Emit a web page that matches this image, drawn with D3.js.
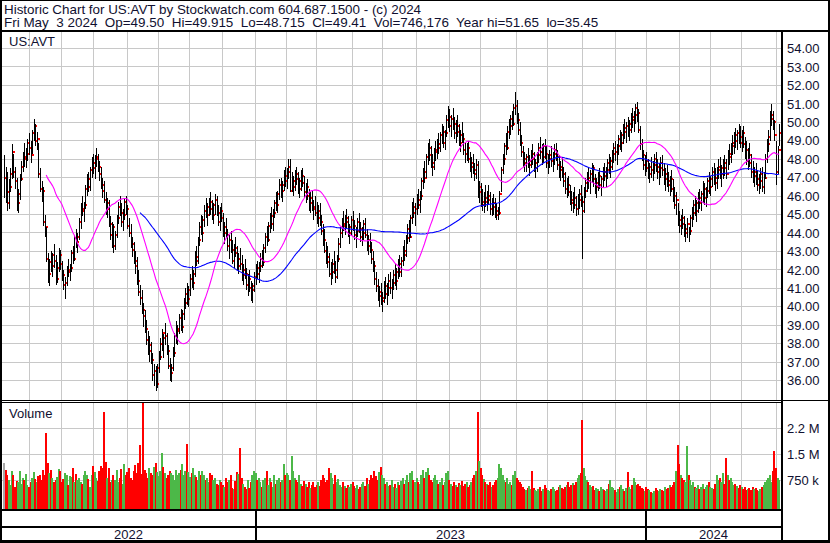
<!DOCTYPE html>
<html><head><meta charset="utf-8">
<script src="https://cdn.jsdelivr.net/npm/d3@7"></script>
<style>
html,body{margin:0;padding:0;background:#fff;}
svg{display:block;font-family:"Liberation Sans",Arial,sans-serif;}
text{white-space:pre;}
</style></head><body>
<svg id="c" width="830" height="543"></svg>
<script>
// ---- daily data (index 0 = first bar shown, last = Fri May 3 2024) ----
const high = [
48.2,47.6,47.3,46.9,47.5,48.8,48.3,47.6,47.0,46.4,
47.2,47.9,48.4,48.9,48.6,49.1,49.4,49.0,49.6,50.2,
49.9,49.5,48.9,47.5,46.8,46.5,45.0,44.3,42.9,42.6,
43.0,42.9,43.4,42.8,42.4,43.2,43.1,42.5,42.0,41.6,
42.2,42.6,42.3,43.1,43.3,43.9,44.2,44.0,44.8,45.6,
46.0,45.7,46.6,47.2,47.3,47.6,48.1,48.3,48.2,48.6,
48.3,47.9,47.6,47.0,46.8,46.2,45.9,45.8,44.9,44.6,
44.5,44.1,45.0,45.7,46.0,45.6,45.3,45.9,46.0,45.5,
44.8,44.5,43.8,43.5,43.0,42.7,42.0,41.2,40.9,40.2,
39.8,39.3,38.7,38.4,38.1,37.5,36.9,36.8,36.9,37.6,
38.3,38.8,38.5,39.1,38.6,37.9,37.2,36.9,37.8,38.6,
39.2,39.0,39.6,39.9,39.8,40.5,41.0,41.3,41.1,41.8,
42.2,42.0,43.0,43.3,43.8,44.6,45.0,44.9,45.5,45.9,
45.6,45.9,46.2,45.8,45.6,46.1,46.0,45.5,45.4,45.6,
45.1,44.6,44.8,44.2,43.9,44.1,43.6,43.4,43.8,43.3,
42.9,43.2,42.8,42.3,42.6,42.1,41.8,42.0,41.4,41.3,
41.9,42.3,42.5,42.4,42.9,43.1,43.4,44.0,44.4,44.6,
45.1,45.4,45.3,45.8,46.2,46.3,46.9,47.0,46.8,47.4,
47.6,47.5,48.0,48.0,47.3,47.1,47.4,47.6,47.3,47.0,
47.4,47.5,47.1,46.7,46.9,46.4,46.2,46.3,45.8,46.0,
45.7,45.5,45.6,45.0,44.5,44.2,43.5,43.3,42.9,42.4,
42.6,43.0,42.5,42.8,43.7,44.3,44.8,45.2,45.0,45.3,
44.9,44.5,44.9,45.2,44.7,44.3,44.8,45.1,44.6,44.3,
44.7,44.8,44.2,43.9,44.0,43.5,43.0,42.5,41.9,41.5,
41.1,41.3,40.8,41.4,41.6,41.3,41.8,41.9,41.5,42.0,
42.3,42.1,42.6,42.8,42.7,43.3,43.6,43.9,44.5,44.7,
45.0,45.7,45.9,45.6,46.1,46.4,46.3,47.0,47.5,47.9,
48.3,48.9,49.1,48.7,48.3,48.6,49.0,49.1,49.4,49.5,
49.9,49.8,49.6,50.4,50.9,50.7,50.4,50.8,50.3,50.1,
50.4,49.9,49.6,50.0,49.4,48.9,48.9,49.0,48.4,48.1,
48.3,47.8,48.0,47.9,46.8,46.7,46.4,46.2,46.6,46.3,
46.6,46.2,45.9,46.1,45.9,45.6,45.4,46.3,47.6,48.3,
48.9,49.4,49.8,50.2,50.4,50.6,51.0,51.65,51.2,50.5,
50.0,49.3,48.7,48.4,48.3,48.6,48.2,48.5,48.8,48.4,
48.0,48.4,48.9,49.2,48.8,48.9,49.1,48.7,48.3,48.5,
48.7,48.4,48.8,48.9,48.5,48.2,47.9,48.1,47.6,47.3,
47.0,47.1,46.6,46.3,46.2,46.5,46.0,46.1,46.4,46.6,
46.0,46.5,47.0,47.3,47.6,47.4,47.8,47.7,47.2,47.0,
47.3,47.5,47.1,47.6,47.8,47.6,48.0,48.3,48.1,48.5,
48.9,49.0,48.8,49.3,49.6,49.5,49.9,50.2,50.0,50.3,
50.1,50.5,50.8,50.6,51.0,51.1,50.7,49.8,49.1,48.5,
48.2,48.4,48.0,47.8,48.1,47.9,48.3,48.4,48.0,47.8,
48.1,48.2,47.8,47.5,47.7,47.3,47.1,47.4,46.9,46.5,
46.2,45.6,45.2,45.0,45.3,44.9,44.5,44.8,44.3,45.0,
45.4,45.8,46.0,45.8,46.2,46.4,46.3,46.8,46.7,46.5,
47.0,47.3,47.1,47.6,47.8,47.5,47.6,48.0,48.1,47.7,
48.0,48.2,48.0,48.5,48.8,48.9,49.3,49.5,49.7,49.6,
49.9,49.8,49.6,49.8,49.2,49.0,48.6,48.9,48.3,47.9,
47.6,47.8,47.4,47.2,47.5,47.6,47.3,48.3,49.1,49.6,
50.6,51.0,50.6,50.1,49.0,48.7,49.915];
const low = [
45.9,45.6,45.2,45.3,46.2,46.9,47.0,46.4,45.2,45.1,
45.8,46.8,47.3,47.6,47.5,47.9,48.2,47.8,48.3,49.0,
48.7,48.5,47.0,46.2,45.7,44.4,43.8,42.4,41.3,41.1,
41.9,41.6,42.1,41.2,41.3,41.9,42.0,41.4,40.9,40.4,
41.1,41.6,41.4,41.9,42.3,42.5,43.2,42.9,43.6,44.2,
44.9,44.6,45.3,46.0,46.2,46.3,47.0,47.2,46.9,47.6,
47.3,46.8,46.4,45.9,45.6,45.0,44.8,44.3,43.6,43.2,
42.9,43.1,43.7,44.5,44.9,44.3,44.1,44.7,45.0,44.2,
43.8,43.2,42.7,42.3,41.8,41.2,40.6,40.1,39.6,38.9,
38.6,37.9,37.4,37.0,36.9,36.0,35.7,35.45,35.6,36.4,
37.1,37.6,37.2,37.9,37.4,36.6,36.0,35.9,36.5,37.3,
38.0,37.9,38.5,38.7,38.6,39.3,39.9,40.1,40.0,40.6,
41.0,40.9,41.6,42.2,42.3,43.3,43.9,43.5,44.3,44.8,
44.4,44.9,45.0,44.7,44.5,45.0,44.9,44.4,44.1,44.6,
43.8,43.4,43.7,43.0,42.6,42.9,42.3,42.1,42.7,42.0,
41.8,42.0,41.4,41.2,41.5,40.9,40.6,40.8,40.3,40.2,
40.8,41.2,41.5,41.3,41.9,42.1,42.2,42.9,43.3,43.5,
44.0,44.2,44.1,44.8,45.2,45.1,45.8,45.9,45.7,46.3,
46.5,46.4,46.9,46.2,46.2,46.0,46.3,46.6,46.1,45.9,
46.3,46.5,45.9,45.6,45.8,45.2,45.1,45.2,44.7,44.9,
44.5,44.3,44.4,43.9,43.3,42.9,42.3,42.1,41.6,41.2,
41.5,41.8,41.3,41.5,42.4,43.2,43.7,44.1,43.9,44.2,
43.8,43.4,43.9,44.1,43.6,43.2,43.8,44.0,43.5,43.3,
43.6,43.7,43.0,42.8,42.9,42.3,41.9,41.2,40.8,40.3,
40.0,40.1,39.7,40.2,40.4,40.1,40.6,40.7,40.4,40.9,
41.1,40.9,41.5,41.6,41.6,42.2,42.5,42.7,43.4,43.5,
43.7,44.5,44.8,44.4,45.0,45.3,45.1,45.8,46.4,46.7,
47.0,47.7,47.9,47.5,47.1,47.4,47.9,48.0,48.3,48.4,
48.8,48.6,48.5,49.2,49.7,49.5,49.2,49.6,49.1,48.9,
49.2,48.7,48.4,48.9,48.2,47.8,47.9,47.8,47.3,47.0,
47.2,46.8,46.9,45.9,45.6,45.4,45.2,45.1,45.4,45.2,
45.5,45.0,44.9,45.0,44.8,44.7,44.7,45.0,46.2,47.2,
47.7,48.2,48.5,49.1,49.3,49.6,49.8,50.4,49.9,49.3,
48.7,48.1,47.6,47.3,47.3,47.5,47.1,47.5,47.7,47.3,
47.0,47.3,47.8,48.0,47.7,47.8,48.0,47.5,47.2,47.5,
47.6,47.3,47.7,47.9,47.4,47.0,46.8,47.0,46.5,46.1,
45.9,46.0,45.5,45.2,45.1,45.3,44.9,45.0,45.3,45.4,
42.6,45.1,45.9,46.2,46.4,46.1,46.7,46.5,46.1,45.9,
46.3,46.4,46.0,46.5,46.8,46.5,46.9,47.2,47.0,47.4,
47.8,47.9,47.7,48.2,48.5,48.4,48.8,49.1,48.9,49.2,
49.0,49.4,49.7,49.5,49.9,50.0,49.4,48.5,47.9,47.4,
47.1,47.3,46.9,46.7,47.0,46.8,47.2,47.3,46.9,46.6,
47.0,47.1,46.6,46.3,46.5,46.2,46.0,46.2,45.7,45.3,
45.0,44.4,44.0,43.9,44.2,43.8,43.5,43.7,43.5,43.9,
44.3,44.7,44.9,44.6,45.1,45.3,45.2,45.6,45.5,45.4,
45.9,46.1,46.0,46.5,46.6,46.3,46.4,46.9,46.9,46.5,
46.9,47.1,46.9,47.4,47.7,47.8,48.2,48.3,48.6,48.5,
48.8,48.6,48.4,48.6,48.0,47.7,47.4,47.6,47.0,46.7,
46.5,46.6,46.3,46.1,46.4,46.2,46.1,46.9,47.8,48.4,
49.0,49.8,49.6,49.0,46.6,47.2,48.715];
const close = [
47.0,46.2,45.6,46.5,47.2,48.4,47.3,46.8,45.6,46.1,
46.9,47.6,48.1,48.0,48.3,48.9,48.6,48.2,49.4,49.8,
49.0,49.1,47.2,46.4,46.3,44.6,44.3,42.6,41.8,42.4,
42.2,42.8,42.5,41.5,42.1,42.8,42.3,41.7,41.2,41.3,
42.0,41.9,42.1,42.9,42.6,43.7,43.5,43.8,44.6,45.3,
45.2,45.5,46.4,46.9,46.5,47.4,47.8,47.5,48.0,48.1,
47.6,47.2,46.6,46.3,45.8,45.3,45.6,44.5,43.9,44.3,
43.3,43.9,44.8,45.4,45.1,44.6,45.0,45.7,45.3,44.4,
44.0,43.4,43.1,42.5,42.2,41.4,40.8,40.5,39.8,39.5,
38.8,38.2,37.6,37.9,37.1,36.3,36.5,35.8,36.7,37.3,
38.0,38.6,38.3,38.4,37.6,36.8,36.4,36.7,37.5,38.4,
38.7,38.8,39.4,38.9,39.6,40.2,40.7,40.4,40.9,41.5,
41.3,41.8,42.7,42.5,43.6,44.3,44.0,44.7,45.2,45.0,
45.4,45.7,45.3,45.0,45.5,45.8,45.1,44.6,45.2,44.8,
44.0,44.3,43.9,43.3,43.6,43.1,42.5,43.2,42.9,42.2,
42.6,42.3,41.7,42.0,41.8,41.2,41.5,41.0,40.9,41.1,
41.6,42.1,41.8,42.2,42.6,42.4,43.2,43.8,43.6,44.4,
44.9,44.5,45.1,45.6,45.5,46.1,46.6,46.3,46.6,47.1,
46.8,47.3,47.6,46.3,46.5,46.8,47.2,46.9,46.4,46.8,
47.1,46.7,46.2,46.5,46.0,45.6,45.9,45.4,45.3,45.1,
44.8,45.2,44.6,44.1,43.6,43.0,42.7,42.4,41.8,41.9,
42.3,42.0,41.6,42.6,43.4,44.0,44.5,44.4,44.8,44.6,
44.0,44.3,44.7,44.4,43.9,44.1,44.6,44.2,43.8,44.0,
44.5,43.9,43.3,43.6,43.1,42.6,42.2,41.5,41.1,40.6,
40.8,40.3,40.5,41.1,40.7,41.0,41.4,41.0,41.3,41.7,
41.4,41.9,42.3,41.9,42.5,43.0,42.8,43.7,44.2,43.8,
44.8,45.4,45.1,45.3,45.8,45.5,46.0,46.8,47.3,47.0,
48.1,48.6,48.2,47.8,47.6,48.4,48.5,48.8,48.6,49.3,
49.5,48.9,49.4,50.1,50.3,49.8,50.2,49.9,49.4,49.8,
49.5,48.9,49.3,49.1,48.5,48.3,48.6,48.0,47.6,47.8,
47.4,47.2,47.7,46.2,46.5,45.7,45.5,45.9,45.7,46.0,
45.8,45.3,45.6,45.4,45.2,45.0,45.1,46.1,47.4,48.0,
48.7,48.6,49.5,49.8,50.2,49.9,50.8,50.9,50.1,49.6,
48.9,48.4,48.0,47.8,48.1,47.7,47.9,48.3,48.0,47.5,
47.8,48.2,48.6,48.4,48.1,48.7,48.3,47.8,48.0,48.2,
47.9,48.3,48.5,48.1,47.7,47.4,47.6,47.2,46.8,46.4,
46.6,46.2,45.8,45.6,45.9,45.5,45.3,45.8,46.1,45.7,
45.2,46.3,46.7,47.0,46.8,47.2,47.5,46.9,46.5,46.7,
47.1,46.6,46.9,47.3,47.1,47.4,47.8,47.6,47.9,48.3,
48.6,48.4,48.7,49.1,48.9,49.3,49.7,49.5,49.8,49.6,
49.9,50.3,50.1,50.4,50.8,50.5,49.6,48.8,48.2,47.7,
47.9,47.5,47.2,47.6,47.4,47.7,48.0,47.6,47.3,47.5,
47.8,47.4,46.9,47.2,46.8,46.6,46.9,46.4,46.0,45.5,
45.8,44.7,44.4,44.8,44.5,44.0,44.2,44.5,44.1,44.8,
45.1,45.5,45.2,45.6,45.9,45.6,46.1,46.4,45.9,46.3,
46.8,46.5,46.9,47.3,47.0,46.7,47.4,47.6,47.2,47.5,
47.8,47.5,47.2,48.3,48.1,48.7,48.9,49.3,49.0,49.4,
49.2,48.9,49.4,48.8,48.5,47.9,48.2,47.8,47.3,47.1,
47.3,46.9,46.6,46.8,47.2,46.5,47.0,48.0,48.8,49.2,
50.2,50.4,50.0,49.3,47.3,48.5,49.41];
// volume in thousands of shares
const volume = [
1240,1050,880,760,620,1010,900,540,720,680,
1000,640,820,760,930,610,550,700,820,980,
770,700,860,900,760,1030,880,2100,1240,960,
1050,820,690,740,830,1060,1010,700,780,940,
900,620,870,840,1090,680,910,760,820,700,
640,880,1020,900,780,560,900,1150,980,820,
720,1020,1150,1100,2720,1280,800,1100,680,740,
900,760,1040,700,820,1080,640,1200,900,980,
1100,820,760,1000,1180,940,1230,1760,920,3000,
1040,950,820,1100,960,880,1120,1230,980,870,
1010,1540,1130,960,820,880,1000,940,900,760,
1050,880,960,1050,1220,900,1000,1790,980,840,
960,1100,900,850,760,1000,900,1020,880,760,
820,700,940,880,760,820,640,600,740,700,
620,560,820,680,760,900,520,480,720,990,
920,1670,820,640,560,480,760,520,700,880,
1000,960,760,820,680,560,740,800,1000,620,
820,700,560,900,640,760,820,700,760,1200,
880,960,900,760,1440,1000,820,760,700,900,
640,580,720,640,560,700,520,620,680,560,
620,700,580,760,900,820,680,740,1100,960,
820,640,900,700,780,620,540,700,580,520,
600,560,640,700,580,520,620,480,560,640,
700,580,820,640,760,900,820,1000,860,760,
980,1120,900,800,640,700,580,620,740,560,
640,520,700,600,720,820,640,760,880,700,
940,1000,760,680,820,700,640,900,1050,820,
980,1100,900,760,680,820,900,760,640,700,
820,600,700,940,1000,760,640,580,700,620,
560,660,600,720,580,640,700,560,620,700,
820,900,1000,2700,1300,1100,900,780,700,640,
600,700,560,620,680,760,820,1200,1100,900,
760,700,820,640,700,600,900,1000,820,760,
700,640,560,500,460,520,580,480,1000,520,
460,440,500,560,420,480,600,520,460,440,
500,560,480,420,460,540,600,520,480,560,
620,700,540,600,660,620,700,820,880,960,
2480,1100,860,760,700,620,540,580,460,520,
480,440,560,500,460,420,500,640,760,560,
520,460,400,500,540,600,480,440,520,990,
560,500,620,820,700,600,640,580,520,480,
420,560,500,460,400,380,440,520,460,420,
500,460,440,560,480,520,600,540,620,700,
1000,1760,1200,900,800,760,700,1730,900,760,
620,700,560,520,600,480,540,640,500,560,
620,700,560,520,480,640,900,760,820,700,
950,640,1380,880,760,820,700,600,640,580,
520,600,560,480,540,460,500,520,460,560,
480,520,460,440,500,560,620,700,760,820,
900,700,1000,1590,1100,820,746];

const priceTicks = [36,37,38,39,40,41,42,43,44,45,46,47,48,49,50,51,52,53,54];
const volumeTicks = [750, 1500, 2250];
const volumeTickLabels = ["750 k", "1.5 M", "2.2 M"];
// bar index where each month starts (vertical grid lines)
const monthStarts = [16,37,57,79,99,119,140,161,181,200,223,242,264,285,305,328,348,370,391,411,432,452,472,494];
const yearLabels = ["2022","2023","2024"];
const yearStarts = [0,161,411];
const maShortPeriod = 28, maLongPeriod = 88;
const titleLine1 = "Historic Chart for US:AVT by Stockwatch.com 604.687.1500 - (c) 2024";
const titleLine2 = "Fri May  3 2024  Op=49.50  Hi=49.915  Lo=48.715  Cl=49.41  Vol=746,176  Year hi=51.65  lo=35.45";

// ---- layout ----
const svg = d3.select("#c");
const W = 830, H = 543;
const plotL = 2, plotR = 781;
const priceTop = 31.5, priceBot = 400;
const volTop = 403, volBot = 509;
const N = close.length;
const step = 1.5628;
const x = d3.scaleLinear().domain([0, N - 1]).range([4, 4 + (N - 1) * step]);
const yP = d3.scaleLinear().domain([36, 54]).range([380.5, 48.5]);
const yV = d3.scaleLinear().domain([0, 2250]).range([506, 428]);
const gridColor = "#c8c8c8";
const textColor = "#101030";

svg.append("rect").attr("width", W).attr("height", H).attr("fill", "#fff");

// grids
const grid = svg.append("g").attr("stroke", gridColor).attr("stroke-width", 1).attr("shape-rendering", "crispEdges");
grid.selectAll("line.hp").data(priceTicks).join("line")
  .attr("x1", plotL).attr("x2", plotR)
  .attr("y1", d => Math.floor(yP(d)) + 0.5).attr("y2", d => Math.floor(yP(d)) + 0.5);
grid.selectAll("line.vp").data(monthStarts).join("line")
  .attr("x1", d => Math.floor(x(d)) + 0.5).attr("x2", d => Math.floor(x(d)) + 0.5)
  .attr("y1", priceTop).attr("y2", priceBot);
const gridV = svg.append("g").attr("stroke", gridColor).attr("stroke-width", 1).attr("shape-rendering", "crispEdges");
gridV.selectAll("line.hv").data(volumeTicks).join("line")
  .attr("x1", plotL).attr("x2", plotR)
  .attr("y1", d => Math.floor(yV(d)) + 0.5).attr("y2", d => Math.floor(yV(d)) + 0.5);
gridV.selectAll("line.vv").data(monthStarts).join("line")
  .attr("x1", d => Math.floor(x(d)) + 0.5).attr("x2", d => Math.floor(x(d)) + 0.5)
  .attr("y1", volTop).attr("y2", volBot);

// volume bars
svg.append("g").attr("shape-rendering", "crispEdges")
  .selectAll("rect").data(volume).join("rect")
  .attr("x", (d, i) => Math.round(x(i)) - 1)
  .attr("width", 2)
  .attr("y", d => yV(d))
  .attr("height", d => volBot - yV(d))
  .attr("fill", (d, i) => {
    if (i === 0) return "#a8a8a8";
    if (close[i] > close[i - 1]) return "#4cb848";
    if (close[i] < close[i - 1]) return "#ff0000";
    return "#a8a8a8";
  });

// price bars: black high-low line + red close mark
const bars = svg.append("g").attr("shape-rendering", "crispEdges")
  .selectAll("g").data(close).join("g");
bars.append("rect")
  .attr("x", (d, i) => Math.round(x(i)))
  .attr("width", 1)
  .attr("y", (d, i) => Math.round(yP(high[i])))
  .attr("height", (d, i) => Math.max(1, Math.round(yP(low[i])) - Math.round(yP(high[i]))))
  .attr("fill", "#000");
bars.append("rect")
  .attr("x", (d, i) => Math.round(x(i)) + 1)
  .attr("width", 2)
  .attr("y", d => Math.round(yP(d)) - 1)
  .attr("height", 2)
  .attr("fill", "#ff0000");

// moving averages
function sma(period) {
  return close.map((c, i) => i < period - 1 ? null : d3.mean(close.slice(i - period + 1, i + 1)));
}
const maLine = d3.line().defined(d => d != null).x((d, i) => x(i)).y(d => yP(d));
const maS = sma(maShortPeriod), maL = sma(maLongPeriod);
svg.append("path").attr("d", maLine(maL)).attr("fill", "none").attr("stroke", "#0000ff").attr("stroke-width", 1.1);
svg.append("path").attr("d", maLine(maS)).attr("fill", "none").attr("stroke", "#ff00ff").attr("stroke-width", 1.1);

// right axes
const axP = svg.append("g").attr("transform", `translate(${plotR},0)`)
  .call(d3.axisRight(yP).tickValues(priceTicks).tickFormat(d3.format(".2f")).tickSize(0).tickPadding(6));
axP.select(".domain").remove();
axP.selectAll("text").attr("font-size", 13).attr("font-family", "Liberation Sans, Arial, sans-serif").attr("fill", textColor);
const axV = svg.append("g").attr("transform", `translate(${plotR},0)`)
  .call(d3.axisRight(yV).tickValues(volumeTicks).tickFormat((d, i) => volumeTickLabels[i]).tickSize(0).tickPadding(6));
axV.select(".domain").remove();
axV.selectAll("text").attr("font-size", 13).attr("font-family", "Liberation Sans, Arial, sans-serif").attr("fill", textColor);

// frame lines
const frame = svg.append("g").attr("fill", "#000").attr("shape-rendering", "crispEdges");
frame.append("rect").attr("x", 0).attr("y", 0).attr("width", W).attr("height", 1);
frame.append("rect").attr("x", 0).attr("y", 0).attr("width", 2).attr("height", H);
frame.append("rect").attr("x", W - 2).attr("y", 0).attr("width", 2).attr("height", H);
frame.append("rect").attr("x", 0).attr("y", H - 3).attr("width", W).attr("height", 3);
frame.append("rect").attr("x", 0).attr("y", 29.5).attr("width", W).attr("height", 2);
frame.append("rect").attr("x", plotR).attr("y", 30).attr("width", 2).attr("height", H - 30);
frame.append("rect").attr("x", 0).attr("y", 400).attr("width", W).attr("height", 1);
frame.append("rect").attr("x", 0).attr("y", 402).attr("width", plotR).attr("height", 1);
frame.append("rect").attr("x", 0).attr("y", 509).attr("width", plotR).attr("height", 2);
frame.append("rect").attr("x", 0).attr("y", 526).attr("width", plotR).attr("height", 2);
// year separators
const yearBounds = yearStarts.map((s, k) => k === 0 ? plotL : x(s) - 0.5);
frame.selectAll("rect.ys").data(yearStarts.slice(1)).join("rect")
  .attr("x", d => Math.round(x(d)) - 1).attr("y", 511).attr("width", 2).attr("height", 29);

// year labels
svg.append("g").selectAll("text").data(yearLabels).join("text")
  .attr("x", (d, k) => ((yearBounds[k]) + (k + 1 < yearBounds.length ? yearBounds[k + 1] : plotR)) / 2)
  .attr("y", 539)
  .attr("text-anchor", "middle")
  .attr("font-size", 13).attr("fill", textColor)
  .text(d => d);

// titles
svg.append("text").attr("x", 4).attr("y", 13.5).attr("font-size", 13.4).attr("fill", textColor).text(titleLine1);
svg.append("text").attr("x", 4).attr("y", 27).attr("font-size", 13.45).attr("fill", textColor).text(titleLine2);
svg.append("text").attr("x", 9).attr("y", 46).attr("font-size", 13).attr("fill", textColor).text("US:AVT");
svg.append("text").attr("x", 9).attr("y", 418).attr("font-size", 13).attr("fill", textColor).text("Volume");
</script>
</body></html>
